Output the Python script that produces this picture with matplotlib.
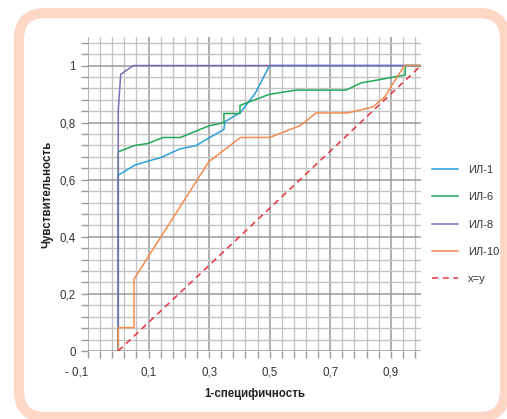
import numpy as np
import matplotlib
matplotlib.use("Agg")
import matplotlib.pyplot as plt
from matplotlib.patches import FancyBboxPatch
from matplotlib.lines import Line2D

plt.rcParams['font.family'] = ['Liberation Sans', 'DejaVu Sans']

# ---- data ----
il1_x = [0, 0, 0.054, 0.098, 0.142, 0.203, 0.256, 0.302, 0.349, 0.352, 0.404, 0.452, 0.5, 1.0]
il1_y = [0, 0.616, 0.651, 0.665, 0.678, 0.708, 0.719, 0.748, 0.776, 0.803, 0.836, 0.902, 1.0, 1.0]

il6_x = [0, 0, 0.054, 0.098, 0.148, 0.205, 0.300, 0.349, 0.349, 0.402, 0.402, 0.433, 0.499,
         0.587, 0.752, 0.802, 0.948, 0.948, 1.0]
il6_y = [0, 0.698, 0.720, 0.727, 0.748, 0.748, 0.789, 0.800, 0.832, 0.832, 0.860, 0.873, 0.899,
         0.914, 0.914, 0.939, 0.967, 1.0, 1.0]

il8_x = [0, 0, 0.008, 0.05, 1.0]
il8_y = [0, 0.844, 0.969, 1.0, 1.0]

il10_x = [0, 0, 0.052, 0.052, 0.299, 0.404, 0.5, 0.604, 0.653, 0.758, 0.841, 0.88, 0.945, 1.0]
il10_y = [0, 0.082, 0.082, 0.252, 0.663, 0.748, 0.748, 0.791, 0.834, 0.834, 0.855, 0.89, 1.0, 1.0]

diag_x = [0, 1]
diag_y = [0, 1]

series_names = ['ИЛ-1', 'ИЛ-6', 'ИЛ-8', 'ИЛ-10', 'x=y']
colors = ['#2a9fd8', '#1fa855', '#7a6bb8', '#f48c4f', '#e8323c']

x_major = [-0.1, 0.1, 0.3, 0.5, 0.7, 0.9]
x_labels = ['- 0,1', '0,1', '0,3', '0,5', '0,7', '0,9']
y_major = [0, 0.2, 0.4, 0.6, 0.8, 1.0]
y_labels = ['0', '0,2', '0,4', '0,6', '0,8', '1']

W, H = 507, 419
fig = plt.figure(figsize=(W / 100, H / 100), dpi=100)

# background frame
bg = fig.add_axes([0, 0, 1, 1], zorder=0)
bg.set_xlim(0, W)
bg.set_ylim(H, 0)
bg.axis('off')
frame = FancyBboxPatch((19, 13), 486, 404,
                       boxstyle="round,pad=0,rounding_size=26",
                       linewidth=7.3, edgecolor='#fdd6c5', facecolor='white')
bg.add_patch(frame)

ax = fig.add_axes([88 / W, 1 - 351 / H, (421 - 88) / W, (351 - 37) / H], zorder=1)
ax.patch.set_alpha(0)
ax.set_xlim(-0.1, 1.0)
ax.set_ylim(0, 1.1)
for s in ax.spines.values():
    s.set_visible(False)

ax.set_xticks(x_major)
ax.set_xticklabels(x_labels)
ax.set_yticks(y_major)
ax.set_yticklabels(y_labels)
ax.set_xticks(np.arange(-0.1, 1.001, 0.04), minor=True)
ax.set_yticks(np.arange(0, 1.101, 0.04), minor=True)
ax.tick_params(which='both', direction='out', length=5, width=1, color='#9a9a9a',
               labelsize=8.3, labelcolor='#333333')
ax.tick_params(axis='x', which='both', pad=6)
ax.tick_params(axis='y', which='both', pad=4)
ax.xaxis.get_majorticklabels()[0].set_horizontalalignment('right')
ax.grid(which='major', color='#9a9a9a', linewidth=1.1)
ax.grid(which='minor', color='#c4c4c4', linewidth=1.0)
ax.set_axisbelow(True)

lw = 1.1
ax.plot(il1_x, il1_y, color=colors[0], lw=lw)
ax.plot(il6_x, il6_y, color=colors[1], lw=lw)
ax.plot(il8_x, il8_y, color=colors[2], lw=lw)
ax.plot(il10_x, il10_y, color=colors[3], lw=lw)
ax.plot(diag_x, diag_y, color=colors[4], lw=lw, dashes=(4, 3))

ax.set_xlabel('1-специфичность', fontsize=8.3, fontweight='bold', color='#222222', labelpad=7)
ax.set_ylabel('Чувствительность', fontsize=8.3, fontweight='bold', color='#222222', labelpad=4)

handles = [Line2D([], [], color=colors[i], lw=lw) for i in range(4)]
handles.append(Line2D([], [], color=colors[4], lw=lw, dashes=(4, 3)))
leg = fig.legend(handles, series_names, loc='upper left',
                 bbox_to_anchor=(422 / W, 1 - 155 / H), frameon=False,
                 fontsize=8, labelspacing=1.56, handlelength=2.35, handletextpad=0.9,
                 labelcolor='#333333')
leg.set_zorder(10)

fig.savefig('out.png', dpi=100)
